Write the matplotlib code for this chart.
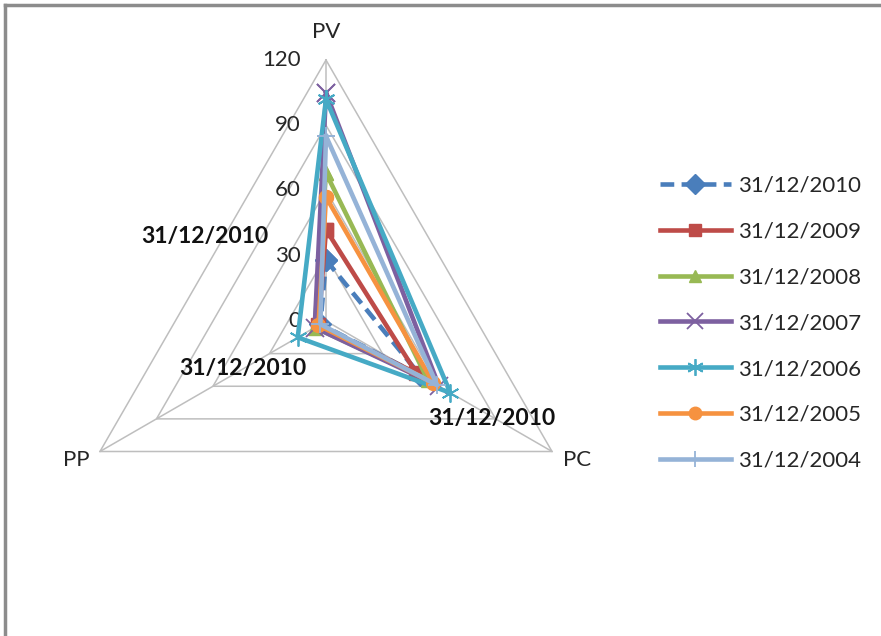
import numpy as np
import matplotlib
matplotlib.use("Agg")
import matplotlib.pyplot as plt
from matplotlib.lines import Line2D

# ---- data ----
axes_labels = ["PV", "PC", "PP"]
series_names = ["31/12/2010", "31/12/2009", "31/12/2008", "31/12/2007",
                "31/12/2006", "31/12/2005", "31/12/2004"]
pv = [28, 42, 68, 105, 102, 57, 85]
pc = [50, 48, 54, 60, 66, 57, 59]
pp = [3, 4, 6, 6, 15, 4, 3]
ticks = [0, 30, 60, 90, 120]

colors = ["#4A7EBB", "#BE4B48", "#98B954", "#7D60A0", "#46AAC5", "#F69240", "#95B3D7"]
markers = ["D", "s", "^", "x", (6, 2, 0), "o", "+"]
styles = [(0, (3, 1.6)), "-", "-", "-", "-", "-", "-"]

plt.rcParams['font.family'] = ['Lato', 'DejaVu Sans']

W, H = 881, 636
CX, CY = 326, 321
S = 261 / 120.0  # px per unit

fig = plt.figure(figsize=(W / 100, H / 100), dpi=100)
ax = fig.add_axes([0, 0, 1, 1])
ax.set_xlim(-CX / S, (W - CX) / S)
ax.set_ylim(-(H - CY) / S, CY / S)
ax.axis("off")


def P(px, py):
    return (px - CX) / S, (CY - py) / S


angles = np.deg2rad([90, -30, 210])
grid_c = "#BEBEBE"
for t in ticks[1:]:
    xs = [t * np.cos(a) for a in angles] + [t * np.cos(angles[0])]
    ys = [t * np.sin(a) for a in angles] + [t * np.sin(angles[0])]
    ax.plot(xs, ys, color=grid_c, lw=1.1, zorder=1)
for a in angles:
    ax.plot([0, ticks[-1] * np.cos(a)], [0, ticks[-1] * np.sin(a)], color=grid_c, lw=1.1, zorder=1)

txt_c = "#262626"
for t in ticks:
    ax.text(-25 / S, t, str(t), ha="right", va="center", fontsize=16, color=txt_c)

ax.text(*P(326, 32), axes_labels[0], ha="center", va="center", fontsize=16, color=txt_c)
ax.text(*P(577, 460), axes_labels[1], ha="center", va="center", fontsize=16, color=txt_c)
ax.text(*P(76, 460), axes_labels[2], ha="center", va="center", fontsize=16, color=txt_c)

handles = []
for i, name in enumerate(series_names):
    vals = [pv[i], pc[i], pp[i]]
    xs = [v * np.cos(a) for v, a in zip(vals, angles)]
    ys = [v * np.sin(a) for v, a in zip(vals, angles)]
    xs.append(xs[0]); ys.append(ys[0])
    m = markers[i]
    thin = m in ("x", "+") or isinstance(m, tuple)
    ms = 13 if thin else (11 if m == "D" else 10)
    mew = 1.3 if thin else 1
    ax.plot(xs, ys, color=colors[i], lw=3.3, linestyle=styles[i], marker=m,
            markersize=ms, markeredgewidth=mew, markeredgecolor=colors[i], zorder=3 + i)
    handles.append(Line2D([], [], color=colors[i], lw=3.3, linestyle=styles[i], marker=m,
                          markersize=ms - 1, markeredgewidth=mew, markeredgecolor=colors[i]))

for (px, py) in [(205, 237), (243, 368), (492, 418)]:
    ax.text(*P(px, py), "31/12/2010", ha="center", va="center", fontsize=16.5,
            fontweight="bold", color="#111111", zorder=20)

leg = fig.legend(handles, series_names, loc="upper left", bbox_to_anchor=(651 / W, 1 - 167 / H),
                 frameon=False, fontsize=16, handlelength=3.2, labelspacing=1.16,
                 handletextpad=0.3, labelcolor=txt_c, borderaxespad=0)

fig.add_artist(Line2D([4.5 / W, 4.5 / W], [0, 1 - 4.5 / H], color="#8C8C8C", lw=2.5,
                      transform=fig.transFigure))
fig.add_artist(Line2D([4.5 / W, 1], [1 - 4.5 / H, 1 - 4.5 / H], color="#8C8C8C", lw=2.5,
                      transform=fig.transFigure))

fig.savefig("out.png", dpi=100)
